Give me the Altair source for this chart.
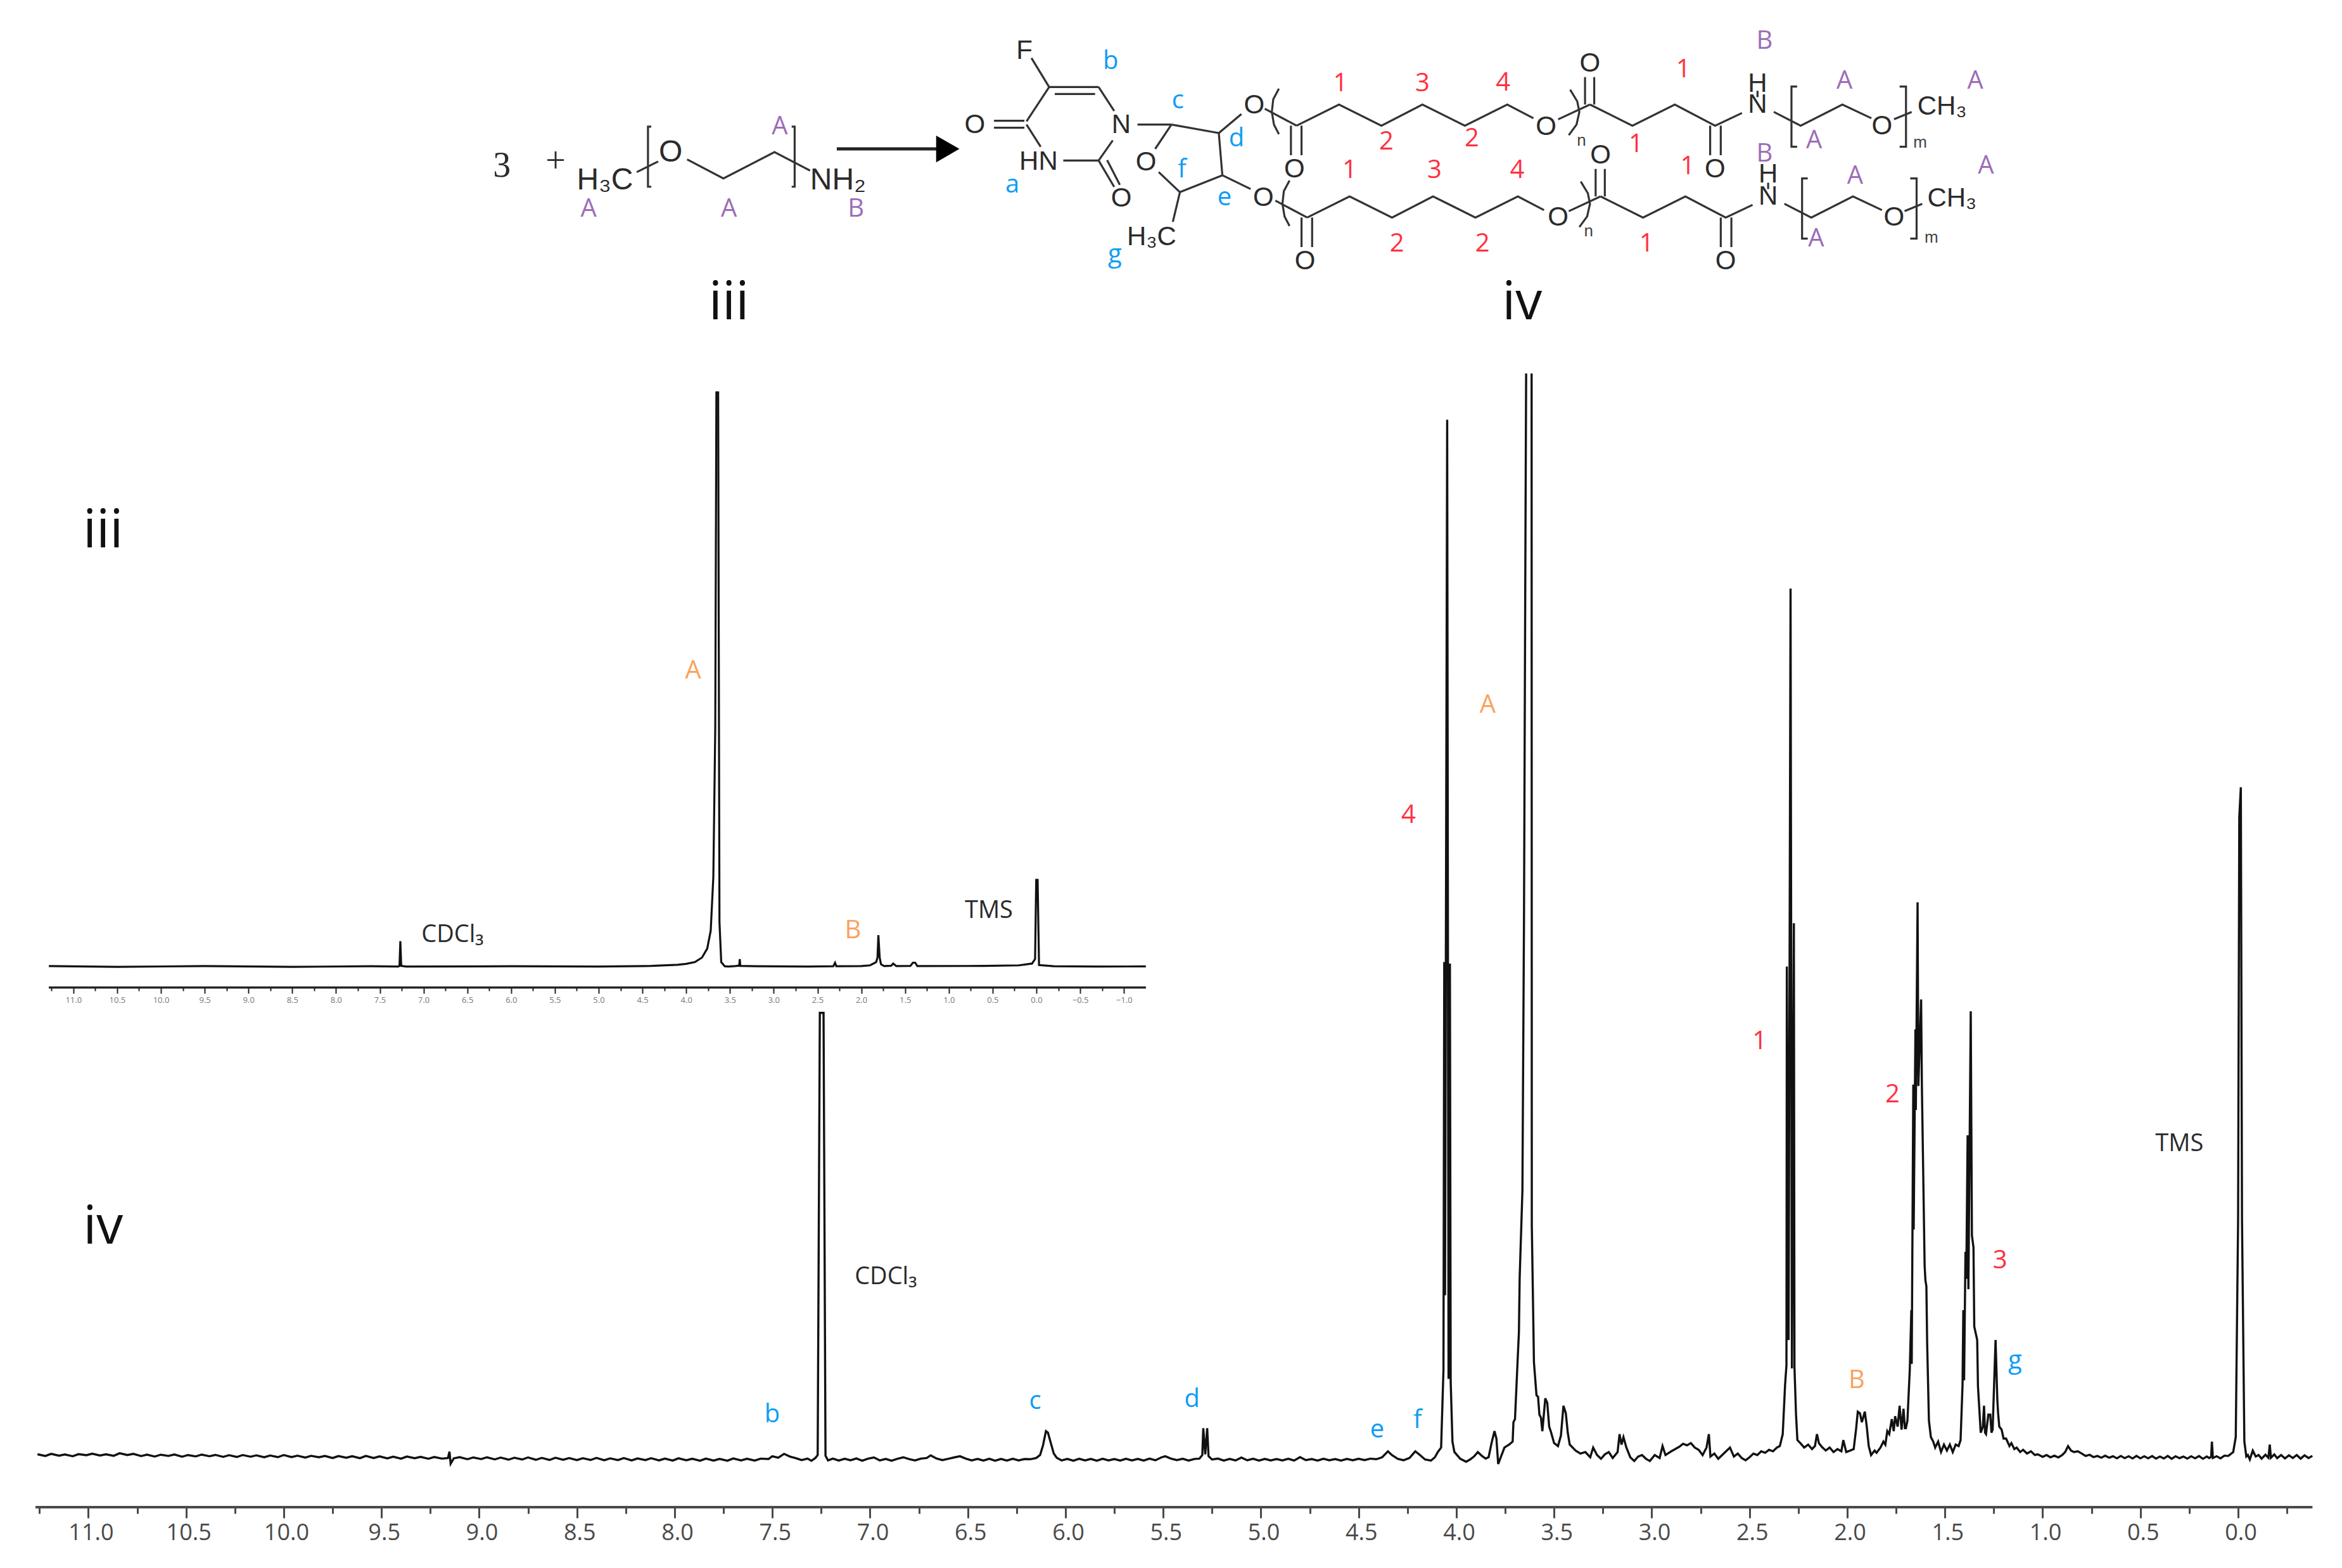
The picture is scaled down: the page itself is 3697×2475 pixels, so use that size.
import altair as alt
import pandas as pd

# ---------- spectrum iv: [ppm, intensity] ----------
iv_baseline_high = [
 [11.26,3.5],[11.22,2.4],[11.19,3.8],[11.15,2.6],[11.12,3.4],[11.08,2.2],[11.05,3.6],[11.01,2.9],[10.98,3.9],[10.94,2.7],
 [10.91,3.5],[10.87,2.5],[10.84,4.2],[10.80,3.0],[10.77,3.8],[10.73,2.3],[10.70,3.3],[10.66,2.0],[10.63,3.2],[10.59,2.4],
 [10.56,3.4],[10.52,1.9],[10.49,3.0],[10.45,2.1],[10.42,3.3],[10.38,2.2],[10.35,3.1],[10.31,1.8],[10.28,2.9],[10.24,1.7],
 [10.21,3.0],[10.17,1.9],[10.14,2.8],[10.10,1.5],[10.07,2.7],[10.03,1.6],[10.00,3.0],[9.96,1.6],[9.93,2.6],[9.89,1.3],
 [9.86,2.5],[9.82,1.5],[9.79,2.4],[9.75,1.0],[9.72,2.3],[9.68,1.2],[9.65,2.2],[9.61,0.9],[9.58,2.4],[9.54,1.0],
 [9.51,2.1],[9.47,0.8],[9.44,1.9],[9.40,0.6],[9.37,2.0],[9.33,0.9],[9.30,1.8],[9.26,0.5],[9.23,1.7],[9.19,0.6],
 [9.16,1.0],[9.152,5.2],[9.146,-2.8],[9.13,0.8],[9.10,1.6],[9.06,0.2],[9.03,1.4],[8.99,0.3],[8.96,1.5],[8.92,0.1],
 [8.89,1.3],[8.85,-0.1],[8.82,1.2],[8.78,0.0],[8.75,1.4],[8.71,-0.2],[8.68,1.1],[8.64,-0.3],[8.61,1.2],[8.57,-0.2],
 [8.54,1.0],[8.50,-0.4],[8.47,0.9],[8.43,-0.3],[8.40,1.1],[8.36,-0.5],[8.33,0.8],[8.29,-0.4],[8.26,1.0],[8.22,-0.6],
 [8.19,0.7],[8.15,-0.4],[8.12,0.9],[8.08,-0.6],[8.05,0.6],[8.01,-0.7],[7.98,0.8],[7.94,-0.5],[7.91,0.5],[7.87,-0.8],
 [7.84,0.6],[7.80,-0.7],[7.77,0.4],[7.73,-0.8],[7.70,0.7],[7.66,-0.6],[7.63,0.5],[7.59,-0.7],[7.56,0.6],[7.52,0.3],
 [7.50,2.2],[7.47,1.2],[7.44,3.8],[7.41,2.0],[7.38,0.9],[7.35,-0.4],[7.32,0.6],[7.30,-0.8],
]
iv_cdcl3 = [[7.28,1.0],[7.268,3.0],[7.257,299],[7.238,299],[7.228,2.5],[7.215,-0.6]]
iv_baseline_mid = [
 [7.19,0.6],[7.16,-0.7],[7.13,0.5],[7.10,-0.5],[7.07,0.7],[7.04,-0.8],[7.01,0.6],[6.98,1.4],[6.95,-0.6],[6.92,0.4],
 [6.89,-0.8],[6.86,0.5],[6.83,1.5],[6.80,0.3],[6.77,-0.6],[6.74,0.6],[6.71,1.0],[6.69,2.8],[6.66,0.7],[6.63,-0.4],
 [6.60,0.5],[6.57,1.4],[6.54,2.2],[6.51,0.6],[6.48,-0.6],[6.45,0.4],[6.42,-0.7],[6.39,0.5],[6.36,-0.8],[6.33,0.4],
 [6.30,-0.7],[6.27,0.5],[6.24,-0.6],[6.21,0.3],[6.18,0.2],[6.15,1.0],[6.13,3.0],[6.115,9.5],[6.10,19],[6.09,18],
 [6.075,11],[6.06,4.0],[6.045,1.2],[6.02,-0.6],[5.99,0.4],[5.96,-0.8],[5.93,0.5],[5.90,-0.6],[5.87,0.4],[5.84,-0.8],
 [5.81,0.5],[5.78,-0.6],[5.75,0.3],[5.72,-0.7],[5.69,0.5],[5.66,-0.6],[5.63,0.4],[5.60,-0.7],[5.57,0.6],[5.54,-0.5],
 [5.51,1.4],[5.49,2.2],[5.46,0.6],[5.43,-0.4],[5.40,0.5],[5.37,-0.7],[5.34,0.4],[5.315,0.6],[5.30,3.0],[5.295,21],
 [5.285,3.5],[5.275,21],[5.268,2.2],[5.25,0.0],[5.22,0.6],[5.19,-0.7],[5.16,0.4],[5.13,-0.6],[5.10,1.3],[5.07,-0.5],
 [5.04,0.5],[5.01,-0.7],[4.98,0.4],[4.95,-0.6],[4.92,0.3],[4.89,-0.6],[4.86,0.5],[4.83,-0.7],[4.80,1.6],[4.77,-0.4],
 [4.74,0.3],[4.71,-0.7],[4.68,0.5],[4.65,-0.5],[4.62,0.3],[4.59,-0.7],[4.56,0.4],[4.53,-0.5],[4.50,0.5],[4.47,-0.4],
 [4.44,0.6],[4.41,0.2],[4.38,1.5],[4.35,5.5],[4.33,3.0],[4.30,0.5],[4.27,-0.5],[4.24,1.0],[4.21,5.5],[4.19,3.4],
 [4.16,0.0],[4.13,-0.7],[4.11,1.5],[4.095,5.0],
]
iv_peak_4 = [[4.078,8],[4.066,60],[4.062,333],[4.058,110],[4.047,696],[4.040,54],[4.033,332],[4.029,52],[4.020,12],[4.010,5]]
iv_between = [[3.98,0.5],[3.95,-1.5],[3.93,0.0],[3.91,2.0],[3.89,5.0],[3.87,2.5],[3.85,0.6],[3.835,1.6],[3.82,11],[3.805,19],[3.795,14],[3.786,-3],[3.77,2.5],[3.754,8],[3.73,10]]
iv_peak_A_left = [[3.712,12],[3.708,25],[3.70,27],[3.687,65],[3.680,85],[3.676,122],[3.662,180],[3.654,360],[3.647,600],[3.643,727]]
iv_peak_A_right = [[3.615,727],[3.614,157],[3.603,65],[3.590,43],[3.582,42],[3.575,30],[3.567,28],[3.56,19],[3.545,41],[3.535,38],[3.525,22],[3.515,18],[3.50,11],[3.48,9],[3.465,16],[3.452,36],[3.44,31],[3.43,18],[3.42,10]]
iv_after_A = [
 [3.39,6],[3.365,4],[3.34,5],[3.315,1.5],[3.30,8],[3.28,3],[3.26,0.5],[3.24,3.5],[3.22,5],[3.20,1],[3.175,5],[3.165,17],[3.155,10],[3.145,15],[3.13,8],[3.11,1.5],
 [3.09,-1],[3.07,2],[3.05,3],[3.03,0.5],[3.01,-1],[2.985,3],[2.96,1],[2.945,9],[2.93,3],[2.90,5.5],[2.88,7],[2.86,8.5],[2.84,10.5],[2.82,9.5],[2.80,11],[2.78,8],
 [2.76,6.5],[2.74,3],[2.72,8],[2.708,17],[2.70,2],[2.68,4],[2.66,0.5],[2.64,3],[2.62,5.5],[2.60,8],[2.58,2],[2.56,4],[2.54,1],[2.52,-0.5],[2.50,1.5],[2.48,4],
 [2.46,3],[2.44,5.5],[2.42,4.5],[2.40,6.5],[2.38,5.5],[2.36,8],[2.345,9],
]
iv_peak_1 = [[2.33,17],[2.318,50],[2.311,63],[2.309,330],[2.30,80],[2.29,583],[2.283,61],[2.273,359],[2.27,62],[2.262,30],[2.255,13]]
iv_after_1 = [
 [2.24,11],[2.22,8],[2.20,10],[2.18,7],[2.165,9],[2.155,17],[2.145,11],[2.13,8.5],[2.11,6],[2.09,8],[2.07,5],[2.05,7],[2.03,5.5],[2.02,13],[2.005,5],[1.985,6],[1.967,7],
 [1.955,20],[1.946,32],[1.935,31],[1.925,25],[1.91,32],[1.90,22],[1.89,9],[1.878,3],[1.86,6],[1.85,4.5],[1.83,8],[1.815,12],[1.805,10],[1.795,19],[1.785,17],[1.772,27],[1.762,19],[1.755,29],[1.742,22],[1.732,36],[1.722,20],[1.712,34],[1.705,21],
]
iv_peak_2 = [[1.70,21],[1.692,26],[1.680,60],[1.672,100],[1.670,64],[1.662,251],[1.660,154],[1.651,288],[1.649,234],[1.640,373],[1.636,250],[1.622,308],[1.618,250],[1.604,130],[1.600,120],[1.595,116],[1.591,78],[1.582,26],[1.572,15]]
iv_after_2 = [[1.56,12],[1.55,8],[1.535,12],[1.52,5],[1.505,10],[1.49,6],[1.475,10],[1.46,5],[1.445,10],[1.43,9]]
iv_peak_3 = [[1.42,13],[1.41,50],[1.406,100],[1.402,53],[1.395,139],[1.391,121],[1.384,217],[1.380,114],[1.368,300],[1.362,150],[1.354,142],[1.350,89],[1.335,80],[1.331,49],[1.317,18],[1.306,22],[1.30,36],[1.295,18],[1.29,17],[1.278,30],[1.268,30],[1.262,18],[1.256,20],[1.241,80],[1.232,40],[1.228,31],[1.222,22]]
iv_tail = [
 [1.21,20],[1.20,14],[1.187,14],[1.17,9],[1.16,11],[1.145,7],[1.133,8],[1.115,5],[1.10,6.5],[1.08,4],[1.06,5.5],[1.04,3],[1.025,3.5],[1.00,1.8],[0.98,3],[0.96,1.5],[0.94,2.6],[0.92,1.4],[0.90,3],[0.885,5],
 [0.87,9],[0.855,6],[0.84,5],[0.82,5.5],[0.80,4],[0.78,2.4],[0.76,3.2],[0.74,1.6],[0.72,2.4],[0.70,1.2],[0.68,2.6],[0.66,1.2],[0.64,2.2],[0.62,0.8],[0.60,2.4],[0.58,0.9],[0.56,2.2],[0.54,0.7],[0.52,2.4],[0.50,0.8],
 [0.48,2.2],[0.46,0.8],[0.44,2.3],[0.42,0.6],[0.40,2.0],[0.38,0.7],[0.36,2.4],[0.34,0.5],[0.32,2.2],[0.30,0.9],[0.28,2.0],[0.26,0.6],[0.24,2.2],[0.22,0.8],[0.20,2.3],[0.18,0.5],[0.16,2.0],[0.148,1.0],[0.138,1.8],[0.134,12],[0.129,1.0],
 [0.11,2.2],[0.09,0.8],[0.07,2.6],[0.05,2.4],
]
iv_tms = [[0.025,5],[0.012,15],[0.0,160],[-0.006,430],[-0.014,450],[-0.020,160],[-0.032,12],[-0.042,2],[-0.05,3]]
iv_end = [
 [-0.06,0.0],[-0.075,6],[-0.09,2],[-0.105,3],[-0.12,0.6],[-0.14,3.2],[-0.155,1.2],[-0.162,10],[-0.168,1.2],[-0.185,3.4],[-0.20,0.9],[-0.22,3.0],[-0.24,0.7],[-0.26,2.8],[-0.28,1.0],[-0.30,3.0],[-0.32,0.6],[-0.34,2.8],[-0.36,1.0],[-0.38,2.4],
]

# ---------- spectrum iii ----------
iii_left = [[11.28,0.3],[10.5,-0.2],[9.5,0.3],[8.5,-0.2],[7.6,0.2],[7.29,0.0],[7.275,0.4],[7.265,17],[7.255,0.4],[7.2,0.0],[6.0,0.2],[5.0,0.0],[4.4,0.4],[4.1,1.2],[4.0,1.8],[3.9,3],[3.82,6],[3.76,12],[3.72,24],[3.69,60],[3.668,160],[3.655,385]]
iii_right = [[3.635,385],[3.62,30],[3.60,3],[3.56,0.2],[3.52,0.0],[3.44,0.3],[3.395,0.6],[3.388,5],[3.382,0.4],[3.2,0.2],[2.6,0.0],[2.32,0.2],[2.30,2.5],[2.285,0.2],[2.0,0.3],[1.9,0.8],[1.83,3],[1.815,6],[1.805,21],[1.79,6],[1.775,1.5],[1.74,0.3],[1.66,0.5],[1.635,2],[1.60,0.3],[1.44,0.4],[1.41,2.6],[1.385,2.6],[1.36,0.3],[0.6,0.4],[0.2,0.8],[0.05,2],[0.015,5],[0.002,58],[-0.014,58],[-0.03,1],[-0.2,0.2],[-0.7,0.0],[-1.25,0.1]]

# ---------- axes ----------
iv_major = [11.0,10.5,10.0,9.5,9.0,8.5,8.0,7.5,7.0,6.5,6.0,5.5,5.0,4.5,4.0,3.5,3.0,2.5,2.0,1.5,1.0,0.5,0.0]
iv_minor = [11.25,10.75,10.25,9.75,9.25,8.75,8.25,7.75,7.25,6.75,6.25,5.75,5.25,4.75,4.25,3.75,3.25,2.75,2.25,1.75,1.25,0.75,0.25,-0.25]
iii_major = [11.0,10.5,10.0,9.5,9.0,8.5,8.0,7.5,7.0,6.5,6.0,5.5,5.0,4.5,4.0,3.5,3.0,2.5,2.0,1.5,1.0,0.5,0.0,-0.5,-1.0]
iii_minor = [11.25,10.75,10.25,9.75,9.25,8.75,8.25,7.75,7.25,6.75,6.25,5.75,5.25,4.75,4.25,3.75,3.25,2.75,2.25,1.75,1.25,0.75,0.25,-0.25,-0.75]
iv_axis_ends = [11.27, -0.38]
iii_axis_ends = [11.28, -1.25]

# ---------- text: [text, x, y, colour] on the figure grid ----------
BLUE, RED, PURPLE, ORANGE, INK = "#0f9cf5", "#ff3040", "#9c6cb8", "#f9a25e", "#2b2b2b"
spectrum_labels = [
 ["A",464,449,ORANGE],["B",571,623,ORANGE],["A",996,472,ORANGE],["B",1243,924,ORANGE],
 ["4",943,546,RED],["1",1178,697,RED],["2",1267,733,RED],["3",1339,844,RED],
 ["g",1349,911,BLUE],["b",517,947,BLUE],["c",693,938,BLUE],["d",798,937,BLUE],["e",922,957,BLUE],["f",949,951,BLUE],
]
solvent_labels = [["CDCl₃",303,626],["TMS",662,610],["TMS",1459,766],["CDCl₃",593,855]]
big_labels = [["iii",69,356],["iv",69,822],["iii",488,203],["iv",1019,203]]
reagent_signs = [["3",336,111],["+",372,108]]
reagent_atoms = [["H₃C",405,121],["O",449,102],["NH₂",561,121]]
# structure text on the grid of the product drawing
product_atoms = [
 ["F",105,240],["O",35,590],["HN",125,765],["O",242,940],["N",242,590],["O",277,767],["H₃C",285,1122],["O",430,498],["O",443,935],
 ["O",487,800],["O",843,600],["O",905,300],["O",1082,800],["H",1142,395],["N",1142,495],["O",1318,598],["CH₃",1403,505],
 ["O",502,1235],["O",860,1030],["O",920,735],["O",1097,1235],["H",1157,825],["N",1157,930],["O",1335,1030],["CH₃",1417,940],
]
product_small = [["m",1372,675],["n",893,665],["m",1388,1125],["n",903,1095]]
product_tags = [
 ["1",552,395,RED],["3",668,395,RED],["4",782,392,RED],["2",617,672,RED],["2",738,657,RED],["1",1037,330,RED],["1",970,685,RED],
 ["1",565,808,RED],["3",685,808,RED],["4",802,808,RED],["2",632,1155,RED],["2",753,1155,RED],["1",1043,790,RED],["1",985,1155,RED],
 ["B",1152,195,PURPLE],["A",1265,385,PURPLE],["A",1450,385,PURPLE],["A",1222,665,PURPLE],["B",1152,728,PURPLE],["A",1280,835,PURPLE],["A",1465,785,PURPLE],["A",1225,1130,PURPLE],
 ["b",227,290,BLUE],["c",322,478,BLUE],["d",405,658,BLUE],["f",328,805,BLUE],["e",388,935,BLUE],["a",88,877,BLUE],["g",233,1205,BLUE],
]
reagent_tags = [["A",522,85,PURPLE],["A",394,140,PURPLE],["A",488,140,PURPLE],["B",573,140,PURPLE]]

# ---------- bonds ----------
reagent_bonds = [
 [[426.3,115.2],[440.6,108.1]],
 [[460,106.7],[484.3,119.5],[518.5,101.8],[542.3,114.2]],
 [[436,84.8],[433.8,84.8],[433.8,125],[436,125]],
 [[530,84.8],[532,84.8],[532,125],[530,125]],
]
arrow_shaft = [[[560.2,99.7],[632,99.7]]]
ring_bonds = [
 [[115,275],[140,412]],[[140,412],[210,412]],[[148,445],[205,445]],[[210,412],[232,525]],[[140,412],[108,575]],
 [[62,572],[105,572]],[[62,605],[105,605]],[[108,590],[128,695]],[[160,760],[210,760]],[[210,760],[230,665]],
 [[210,760],[232,885]],[[222,758],[240,875]],[[265,590],[313,590]],[[313,590],[380,630]],[[313,590],[290,705]],
 [[380,630],[385,830]],[[380,630],[412,540]],[[385,830],[325,910]],[[295,815],[325,910]],[[325,910],[315,1050]],[[385,830],[425,895]],
]
chain_bonds = [
 [[465,420],[457,470],[455,530],[458,590],[465,635]],
 [[445,515],[490,595]],[[482,595],[482,735]],[[497,595],[497,735]],
 [[490,595],[550,495],[610,595],[668,495],[728,595],[788,495],[825,560]],
 [[860,565],[905,495]],
 [[877,425],[887,480],[890,530],[886,590],[875,640]],
 [[898,495],[898,365]],[[911,495],[911,365]],
 [[905,495],[965,595],[1025,495],[1082,595],[1120,535]],
 [[1075,595],[1075,735]],[[1090,595],[1090,735]],
 [[1142,430],[1142,460]],
 [[1165,530],[1203,595],[1262,495],[1303,560]],
 [[1335,565],[1360,530]],
 [[1198,410],[1190,410],[1190,695],[1198,695]],
 [[1343,410],[1352,410],[1352,695],[1343,695]],
]
lower_shift = (15, 435)

# ---------- layout ----------
W, H = 3681, 2371
main_x = alt.Scale(domain=[11.426, -0.5057], nice=False, zero=False)
main_y = alt.Scale(domain=[-31.9, 973.6], nice=False, zero=False)
ins_x = alt.Scale(domain=[11.78, -14.855], nice=False, zero=False)
ins_y = alt.Scale(domain=[-361.9, 643.6], nice=False, zero=False)
fig_x = alt.Scale(domain=[3.39, 1564.5], nice=False, zero=False)
fig_y = alt.Scale(domain=[1008.9, 3.39], nice=False, zero=False)


def z5(x, y):
    return 636.1 + x * 0.4733, y / 7.074


def frame(segments):
    rows = []
    for s, seg in enumerate(segments):
        for i, (a, b) in enumerate(seg):
            rows.append({"x": a, "y": b, "s": s, "i": i})
    return pd.DataFrame(rows)


def path(df, xs, ys, width, color="#111111"):
    return alt.Chart(df).mark_line(color=color, strokeWidth=width, strokeJoin="miter", strokeCap="butt", clip=False).encode(
        x=alt.X("x:Q", scale=xs, axis=None),
        y=alt.Y("y:Q", scale=ys, axis=None),
        detail="s:N",
        order="i:Q",
    )


def axis_layer(ends, xs, ys, level, values, size, labelled, offset, color, width, font=36, pad=6, lcolor="#4a4a4a", shift=0):
    df = pd.DataFrame({"x": ends, "y": [level, level], "i": [0, 1]})
    ax = alt.Axis(orient="bottom", values=values, offset=offset, tickSize=size, tickWidth=width, tickColor=color,
                  domain=False, grid=False, title=None, labels=labelled, labelFontSize=font, labelColor=lcolor,
                  labelFont="Open Sans", labelPadding=pad, labelFlush=False, labelOverlap=False, format=".1f", labelOffset=shift)
    return alt.Chart(df).mark_line(color=color, strokeWidth=width + 1).encode(
        x=alt.X("x:Q", scale=xs, axis=ax),
        y=alt.Y("y:Q", scale=ys, axis=None),
        order="i:Q",
    )


def text_layer(rows, font, size, color=None, weight=None):
    df = pd.DataFrame(rows, columns=["t", "x", "y", "c"][: len(rows[0])])
    kw = dict(font=font, fontSize=size, align="center", baseline="middle")
    if weight:
        kw["fontWeight"] = weight
    if color:
        kw["color"] = color
    enc = dict(x=alt.X("x:Q", scale=fig_x, axis=None), y=alt.Y("y:Q", scale=fig_y, axis=None), text="t:N")
    if not color:
        enc["color"] = alt.Color("c:N", scale=None, legend=None)
    return alt.Chart(df).mark_text(**kw).encode(**enc)


iv_sections = [iv_baseline_high + iv_cdcl3 + iv_baseline_mid + iv_peak_4 + iv_between + iv_peak_A_left,
               iv_peak_A_right + iv_after_A + iv_peak_1 + iv_after_1 + iv_peak_2 + iv_after_2 + iv_peak_3 + iv_tail + iv_tms + iv_end]

atoms_xy = [[t, *z5(a, b)] for t, a, b in product_atoms]
small_xy = [[t, *z5(a, b)] for t, a, b in product_small]
tags_xy = [[t, *z5(a, b), c] for t, a, b, c in product_tags] + reagent_tags

ring_xy = [[z5(*p) for p in seg] for seg in ring_bonds]
chain_xy = [[z5(*p) for p in seg] for seg in chain_bonds]
lower_xy = [[z5(p[0] + lower_shift[0], p[1] + lower_shift[1]) for p in seg] for seg in chain_bonds]

arrow_head = pd.DataFrame({"x": [634.5], "y": [99.7]})

layers = [
    path(frame(iv_sections), main_x, main_y, 3.4),
    path(frame([iii_left, iii_right]), ins_x, ins_y, 3.2),
    axis_layer(iv_axis_ends, main_x, main_y, -31.9, iv_major, 17, True, 0, "#4a4a4a", 3, shift=4),
    axis_layer(iv_axis_ends, main_x, main_y, -31.9, iv_minor, 10, False, 0, "#4a4a4a", 3),
    axis_layer(iii_axis_ends, ins_x, ins_y, -14.0, iii_major, 9, True, -820, "#222222", 2, font=13, pad=4, lcolor="#777777"),
    axis_layer(iii_axis_ends, ins_x, ins_y, -14.0, iii_minor, 5, False, -820, "#222222", 2),
    path(frame(reagent_bonds + ring_xy + chain_xy + lower_xy), fig_x, fig_y, 3.2, "#333333"),
    path(frame(arrow_shaft), fig_x, fig_y, 5, "#222222"),
    alt.Chart(arrow_head).mark_point(shape="triangle-right", filled=True, size=1800, color="#000000", opacity=1).encode(
        x=alt.X("x:Q", scale=fig_x, axis=None), y=alt.Y("y:Q", scale=fig_y, axis=None)),
    text_layer(reagent_signs, "Liberation Serif", 56, color="#2b2b2b"),
    text_layer(reagent_atoms, "Liberation Sans", 48, color="#2b2b2b"),
    text_layer(atoms_xy, "Liberation Sans", 42, color="#2b2b2b"),
    text_layer(small_xy, "Liberation Sans", 26, color="#444444"),
    text_layer(tags_xy, "Open Sans", 40),
    text_layer(spectrum_labels, "Open Sans", 40),
    text_layer(solvent_labels, "Open Sans", 38, color="#2b2b2b"),
    text_layer(big_labels, "Open Sans", 84, color="#111111", weight=500),
]

chart = alt.layer(*layers).resolve_scale(x="independent", y="independent").properties(
    width=W, height=H, padding={"left": 0, "top": 0, "right": 0, "bottom": 24}, background="white"
).configure_view(stroke=None)

chart.save("out.html", embed_options={"renderer": "svg", "actions": False})
